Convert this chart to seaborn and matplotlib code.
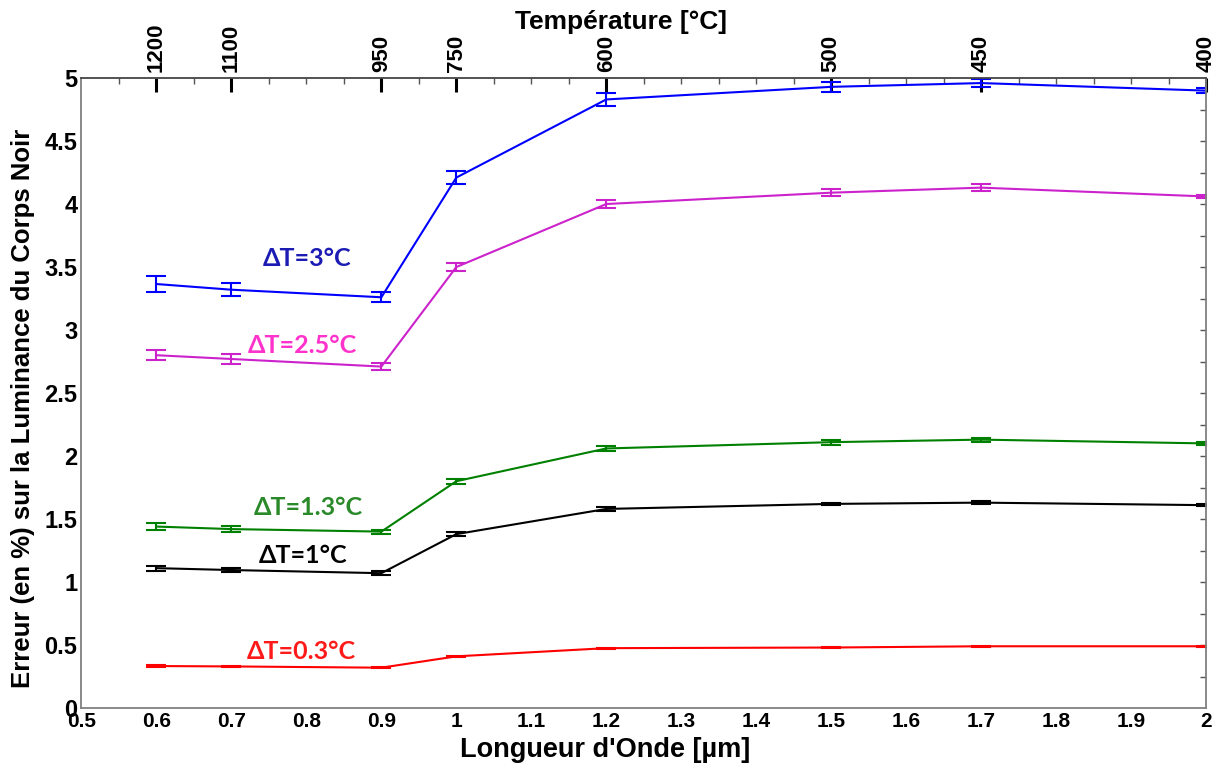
import numpy as np
import pandas as pd
import matplotlib
matplotlib.use("Agg")
import matplotlib.pyplot as plt
import seaborn as sns

# wavelength positions (µm) and matching temperatures for the top axis
wavelengths = [0.6, 0.7, 0.9, 1.0, 1.2, 1.5, 1.7, 2.0]
temperatures = ["1200", "1100", "950", "750", "600", "500", "450", "400"]

series_names = ["ΔT=3°C", "ΔT=2.5°C", "ΔT=1.3°C", "ΔT=1°C", "ΔT=0.3°C"]

err_3 = [3.365, 3.32, 3.26, 4.21, 4.83, 4.93, 4.96, 4.90]
err_25 = [2.80, 2.77, 2.71, 3.50, 4.00, 4.09, 4.13, 4.06]
err_13 = [1.44, 1.42, 1.40, 1.80, 2.06, 2.11, 2.13, 2.10]
err_1 = [1.11, 1.095, 1.07, 1.38, 1.58, 1.62, 1.63, 1.61]
err_03 = [0.333, 0.33, 0.32, 0.41, 0.475, 0.48, 0.49, 0.49]

sd_3 = [0.06, 0.05, 0.04, 0.05, 0.05, 0.04, 0.03, 0.02]
sd_25 = [0.04, 0.04, 0.03, 0.03, 0.03, 0.03, 0.025, 0.01]
sd_13 = [0.03, 0.025, 0.015, 0.02, 0.02, 0.02, 0.015, 0.01]
sd_1 = [0.02, 0.015, 0.015, 0.015, 0.015, 0.01, 0.01, 0.01]
sd_03 = [0.005, 0.005, 0.005, 0.005, 0.005, 0.005, 0.005, 0.005]

line_colors = ["#0000ff", "#cc22cc", "#008000", "#000000", "#ff0000"]
label_colors = ["#1c1cb4", "#ff33cc", "#2a8a2a", "#000000", "#ff1a1a"]
label_pos = [(0.801, 3.57), (0.795, 2.88), (0.802, 1.59), (0.795, 1.21), (0.793, 0.45)]

values = [err_3, err_25, err_13, err_1, err_03]
errors = [sd_3, sd_25, sd_13, sd_1, sd_03]

df = pd.concat(
    [
        pd.DataFrame({"x": wavelengths, "y": v, "sd": e, "serie": name})
        for name, v, e in zip(series_names, values, errors)
    ],
    ignore_index=True,
)

sns.set_style("white")
plt.rcParams["font.family"] = ["Liberation Sans", "DejaVu Sans"]
plt.rcParams["text.color"] = "black"
plt.rcParams["axes.labelcolor"] = "black"
plt.rcParams["xtick.labelcolor"] = "black"
plt.rcParams["ytick.labelcolor"] = "black"

fig = plt.figure(figsize=(12.16, 7.65), dpi=100)
ax = fig.add_axes([0.067, 0.0745, 0.9248, 0.8235])

sns.lineplot(
    data=df, x="x", y="y", hue="serie", hue_order=series_names,
    palette=line_colors, linewidth=1.5, legend=False, ax=ax, sort=False,
)
for name, color in zip(series_names, line_colors):
    sub = df[df["serie"] == name]
    ax.errorbar(sub["x"], sub["y"], yerr=sub["sd"], fmt="none",
                ecolor=color, elinewidth=1.5, capsize=7.5, capthick=1.5)

for name, color, (lx, ly) in zip(series_names, label_colors, label_pos):
    ax.text(lx, ly, name, color=color, fontsize=18, fontweight="bold",
            ha="center", va="center", family=["Lato", "DejaVu Sans"])

ax.set_xlim(0.5, 2.0)
ax.set_ylim(0, 5)
xt = np.round(np.arange(0.5, 2.001, 0.1), 2)
ax.set_xticks(xt)
ax.set_xticklabels([f"{v:g}" for v in xt])
ax.set_xticks(np.round(np.arange(0.55, 2.0, 0.1), 2), minor=True)
yt = np.arange(0, 5.01, 0.5)
ax.set_yticks(yt)
ax.set_yticklabels([f"{v:g}" for v in yt])
ax.set_yticks(np.arange(0.25, 5, 0.5), minor=True)

ax.tick_params(axis="both", which="major", direction="in", length=7, width=1,
               color="#555555", labelcolor="black", pad=3)
ax.tick_params(axis="both", which="minor", direction="in", length=4, width=1,
               color="#555555")
ax.tick_params(axis="x", labelsize=15)
ax.tick_params(axis="y", labelsize=17)
for lbl in ax.get_xticklabels() + ax.get_yticklabels():
    lbl.set_fontweight("bold")

for sp in ax.spines.values():
    sp.set_color("#808080")
    sp.set_linewidth(1.3)
ax.spines["top"].set_color("#444444")

ax.set_xlabel("Longueur d'Onde [µm]", fontsize=19.5, fontweight="bold")
ax.xaxis.set_label_coords(0.466, -0.046)
ax.set_ylabel("Erreur (en %) sur la Luminance du Corps Noir", fontsize=18.5,
              fontweight="bold")
ax.yaxis.set_label_coords(-0.041, 0.475)

# short inward ticks on the top and right spines
top_minor = ax.secondary_xaxis("top")
top_minor.set_xticks(np.round(np.arange(0.55, 2.0, 0.05), 2))
top_minor.set_xticklabels([])
top_minor.tick_params(direction="in", length=4, width=1, color="#555555")
top_minor.spines["top"].set_visible(False)

right = ax.secondary_yaxis("right")
right.set_yticks(np.arange(0.25, 5, 0.25))
right.set_yticklabels([])
right.tick_params(direction="in", length=4, width=1, color="#555555")
right.spines["right"].set_visible(False)

# temperature axis
top = ax.secondary_xaxis("top")
top.set_xticks(wavelengths)
top.set_xticklabels(temperatures, rotation=90, fontsize=16, fontweight="bold")
top.tick_params(direction="in", length=10, width=2.2, color="black",
                labelcolor="black", pad=4)
top.spines["top"].set_visible(False)

fig.text(621 / 1216, 1 - 22 / 765, "Température [°C]", fontsize=19,
         fontweight="bold", ha="center", va="center", color="black")

fig.savefig("out.png", dpi=100)
